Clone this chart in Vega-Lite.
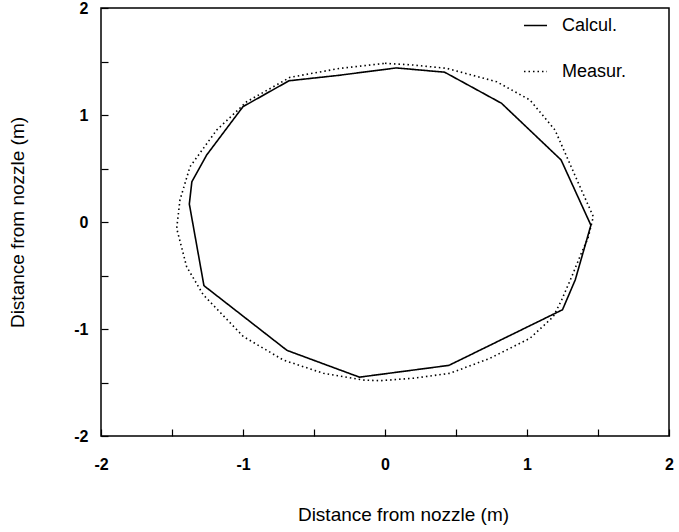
{
  "$schema": "https://vega.github.io/schema/vega-lite/v6.json",
  "autosize": {"type": "none"},
  "padding": {"left": 101, "top": 8, "right": 10, "bottom": 96},
  "width": 568,
  "height": 428,
  "background": "white",
  "config": {
    "view": {"stroke": "black", "strokeWidth": 1.5},
    "font": "Liberation Sans"
  },
  "datasets": {
    "curves": [
      {"s": "Calcul.", "i": 0, "x": 0.08, "y": 1.44},
      {"s": "Calcul.", "i": 1, "x": 0.42, "y": 1.40},
      {"s": "Calcul.", "i": 2, "x": 0.82, "y": 1.11},
      {"s": "Calcul.", "i": 3, "x": 1.24, "y": 0.58},
      {"s": "Calcul.", "i": 4, "x": 1.45, "y": -0.03},
      {"s": "Calcul.", "i": 5, "x": 1.34, "y": -0.54},
      {"s": "Calcul.", "i": 6, "x": 1.25, "y": -0.82},
      {"s": "Calcul.", "i": 7, "x": 0.85, "y": -1.08},
      {"s": "Calcul.", "i": 8, "x": 0.45, "y": -1.34},
      {"s": "Calcul.", "i": 9, "x": -0.18, "y": -1.45},
      {"s": "Calcul.", "i": 10, "x": -0.69, "y": -1.20},
      {"s": "Calcul.", "i": 11, "x": -1.275, "y": -0.595},
      {"s": "Calcul.", "i": 12, "x": -1.378, "y": 0.168},
      {"s": "Calcul.", "i": 13, "x": -1.36, "y": 0.377},
      {"s": "Calcul.", "i": 14, "x": -1.256, "y": 0.626},
      {"s": "Calcul.", "i": 15, "x": -1.0, "y": 1.078},
      {"s": "Calcul.", "i": 16, "x": -0.676, "y": 1.32},
      {"s": "Calcul.", "i": 17, "x": -0.33, "y": 1.37},
      {"s": "Calcul.", "i": 18, "x": 0.08, "y": 1.44},
      {"s": "Measur.", "i": 0, "x": 0.0, "y": 1.483},
      {"s": "Measur.", "i": 1, "x": 0.2, "y": 1.467},
      {"s": "Measur.", "i": 2, "x": 0.434, "y": 1.436},
      {"s": "Measur.", "i": 3, "x": 0.786, "y": 1.311},
      {"s": "Measur.", "i": 4, "x": 1.021, "y": 1.14},
      {"s": "Measur.", "i": 5, "x": 1.197, "y": 0.86},
      {"s": "Measur.", "i": 6, "x": 1.28, "y": 0.61},
      {"s": "Measur.", "i": 7, "x": 1.373, "y": 0.33},
      {"s": "Measur.", "i": 8, "x": 1.467, "y": 0.05},
      {"s": "Measur.", "i": 9, "x": 1.43, "y": -0.15},
      {"s": "Measur.", "i": 10, "x": 1.38, "y": -0.3},
      {"s": "Measur.", "i": 11, "x": 1.315, "y": -0.511},
      {"s": "Measur.", "i": 12, "x": 1.244, "y": -0.729},
      {"s": "Measur.", "i": 13, "x": 1.185, "y": -0.885},
      {"s": "Measur.", "i": 14, "x": 1.021, "y": -1.087},
      {"s": "Measur.", "i": 15, "x": 0.739, "y": -1.274},
      {"s": "Measur.", "i": 16, "x": 0.458, "y": -1.414},
      {"s": "Measur.", "i": 17, "x": 0.2, "y": -1.46},
      {"s": "Measur.", "i": 18, "x": -0.035, "y": -1.483},
      {"s": "Measur.", "i": 19, "x": -0.153, "y": -1.477},
      {"s": "Measur.", "i": 20, "x": -0.434, "y": -1.414},
      {"s": "Measur.", "i": 21, "x": -0.716, "y": -1.29},
      {"s": "Measur.", "i": 22, "x": -0.998, "y": -1.07},
      {"s": "Measur.", "i": 23, "x": -1.28, "y": -0.68},
      {"s": "Measur.", "i": 24, "x": -1.397, "y": -0.418},
      {"s": "Measur.", "i": 25, "x": -1.467, "y": -0.06},
      {"s": "Measur.", "i": 26, "x": -1.444, "y": 0.206},
      {"s": "Measur.", "i": 27, "x": -1.373, "y": 0.517},
      {"s": "Measur.", "i": 28, "x": -1.185, "y": 0.86},
      {"s": "Measur.", "i": 29, "x": -0.974, "y": 1.124},
      {"s": "Measur.", "i": 30, "x": -0.669, "y": 1.352},
      {"s": "Measur.", "i": 31, "x": -0.317, "y": 1.436},
      {"s": "Measur.", "i": 32, "x": 0.0, "y": 1.483}
    ]
  },
  "layer": [
    {
      "mark": {"type": "rule", "color": "black", "strokeWidth": 1},
      "encoding": {"x": {"datum": 0, "type": "quantitative"}}
    },
    {
      "mark": {"type": "rule", "color": "black", "strokeWidth": 1},
      "encoding": {"y": {"datum": 0, "type": "quantitative"}}
    },
    {
      "data": {"name": "curves"},
      "mark": {"type": "line", "color": "black", "strokeWidth": 1.6},
      "encoding": {
        "x": {
          "field": "x", "type": "quantitative",
          "scale": {"domain": [-2, 2], "nice": false, "zero": false},
          "axis": {
            "title": "Distance from nozzle (m)",
            "values": [-2, -1.5, -1, -0.5, 0, 0.5, 1, 1.5, 2],
            "labelExpr": "datum.value % 1 === 0 ? toString(datum.value) : ''",
            "grid": false,
            "domain": false,
            "tickSize": -7,
            "tickColor": "black",
            "tickWidth": 1.2,
            "labelFont": "Liberation Sans",
            "labelFontWeight": "bold",
            "labelFontSize": 16,
            "labelColor": "black",
            "labelPadding": 27,
            "labelFlush": false,
            "titleFont": "Liberation Sans",
            "titleFontWeight": "normal",
            "titleFontSize": 19,
            "titleColor": "black",
            "titleX": 302,
            "titleY": 69
          }
        },
        "y": {
          "field": "y", "type": "quantitative",
          "scale": {"domain": [-2, 2], "nice": false, "zero": false},
          "axis": {
            "title": "Distance from nozzle (m)",
            "values": [-2, -1.5, -1, -0.5, 0, 0.5, 1, 1.5, 2],
            "labelExpr": "datum.value % 1 === 0 ? toString(datum.value) : ''",
            "grid": false,
            "domain": false,
            "tickSize": -7,
            "tickColor": "black",
            "tickWidth": 1.2,
            "labelFont": "Liberation Sans",
            "labelFontWeight": "bold",
            "labelFontSize": 16,
            "labelColor": "black",
            "labelPadding": 20,
            "labelFlush": false,
            "titleFont": "Liberation Sans",
            "titleFontWeight": "normal",
            "titleFontSize": 19,
            "titleColor": "black",
            "titleX": -74,
            "titleY": 214
          }
        },
        "order": {"field": "i", "type": "quantitative"},
        "strokeDash": {
          "field": "s", "type": "nominal",
          "scale": {"domain": ["Calcul.", "Measur."], "range": [[1, 0], [1.5, 3]]},
          "legend": {
            "title": null,
            "orient": "none",
            "legendX": 422,
            "legendY": 5,
            "padding": 0,
            "symbolType": "stroke",
            "symbolSize": 530,
            "symbolStrokeColor": "black",
            "symbolStrokeWidth": 1.5,
            "labelFont": "Liberation Sans",
            "labelFontSize": 18,
            "labelColor": "black",
            "labelOffset": 14,
            "rowPadding": 24
          }
        }
      }
    }
  ]
}
